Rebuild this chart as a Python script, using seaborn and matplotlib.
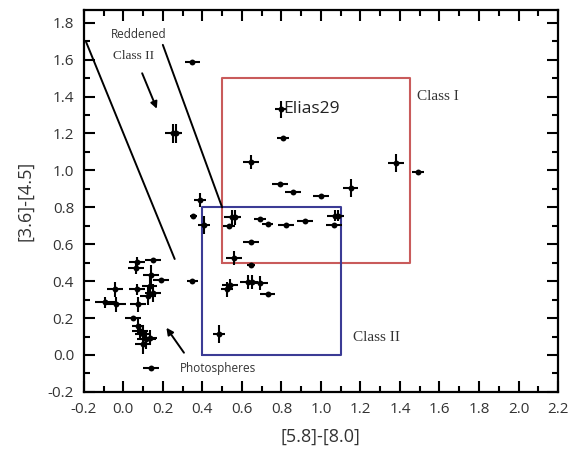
import numpy as np
import pandas as pd
import matplotlib
matplotlib.use("Agg")
import matplotlib.pyplot as plt
import seaborn as sns

# IRAC colours
color_58_80 = [0.35, 0.25, 0.265, 0.645, 0.80, 0.81, 0.795, 0.86, 1.00, 1.15,
               1.38, 1.49, 0.39, 0.355, 0.41, 0.55, 0.565, 0.535, 0.69, 0.73,
               0.825, 0.92, 1.07, 1.085, 1.065, 0.647, 0.56, 0.647, 0.35, 0.54,
               0.525, 0.63, 0.65, 0.69, 0.73, 0.485, 0.14,
               0.071, 0.066, 0.15, 0.142, 0.189, -0.043, -0.094, -0.035, 0.071,
               0.133, 0.125, 0.15, 0.074, 0.049, 0.074, 0.083, 0.10, 0.117,
               0.133, 0.10]
color_36_45 = [1.585, 1.20, 1.20, 1.045, 1.33, 1.175, 0.925, 0.885, 0.863, 0.905,
               1.04, 0.99, 0.84, 0.755, 0.705, 0.745, 0.745, 0.70, 0.737, 0.71,
               0.703, 0.724, 0.755, 0.755, 0.706, 0.614, 0.526, 0.488, 0.40, 0.38,
               0.355, 0.395, 0.395, 0.39, 0.33, 0.115, -0.072,
               0.503, 0.47, 0.514, 0.436, 0.405, 0.355, 0.286, 0.274, 0.355,
               0.373, 0.319, 0.337, 0.274, 0.202, 0.157, 0.13, 0.112, 0.085,
               0.094, 0.058]
err_58_80 = [0.04, 0.04, 0.03, 0.04, 0.03, 0.03, 0.04, 0.04, 0.04, 0.04,
             0.04, 0.03, 0.03, 0.02, 0.03, 0.04, 0.03, 0.03, 0.03, 0.03,
             0.04, 0.04, 0.04, 0.03, 0.04, 0.04, 0.04, 0.02, 0.03, 0.04,
             0.03, 0.04, 0.03, 0.04, 0.04, 0.03, 0.04,
             0.04, 0.04, 0.04, 0.04, 0.04, 0.04, 0.05, 0.05, 0.04,
             0.04, 0.04, 0.04, 0.04, 0.04, 0.03, 0.04, 0.04, 0.05,
             0.04, 0.04]
err_36_45 = [0.01, 0.05, 0.05, 0.04, 0.045, 0.01, 0.01, 0.01, 0.01, 0.05,
             0.05, 0.01, 0.04, 0.01, 0.05, 0.04, 0.04, 0.01, 0.01, 0.01,
             0.01, 0.01, 0.03, 0.03, 0.01, 0.01, 0.04, 0.01, 0.01, 0.03,
             0.04, 0.04, 0.04, 0.04, 0.01, 0.05, 0.01,
             0.03, 0.03, 0.01, 0.05, 0.01, 0.04, 0.03, 0.04, 0.03,
             0.05, 0.05, 0.05, 0.04, 0.01, 0.04, 0.04, 0.05, 0.05,
             0.04, 0.05]

# classification boxes (xmin, xmax, ymin, ymax)
class_i_box = (0.5, 1.45, 0.5, 1.5)
class_ii_box = (0.4, 1.1, 0.0, 0.8)
# reddening lines
redden_line_1 = ([-0.19, 0.26], [1.70, 0.52])
redden_line_2 = ([0.20, 0.50], [1.68, 0.80])

XTICKS = np.arange(-0.2, 2.21, 0.2)
YTICKS = np.arange(-0.2, 1.81, 0.2)

df = pd.DataFrame({"x": color_58_80, "y": color_36_45,
                   "xerr": err_58_80, "yerr": err_36_45})

sns.set_theme(style="ticks")
plt.rcParams["font.family"] = ["Open Sans", "DejaVu Sans"]

fig = plt.figure(figsize=(5.7, 4.66), dpi=100)
ax = fig.add_axes([0.147, 0.159, 0.832, 0.82])

ax.errorbar(df["x"], df["y"], xerr=df["xerr"], yerr=df["yerr"], fmt="none",
            ecolor="black", elinewidth=1.5, capsize=0, zorder=3)
sns.scatterplot(data=df, x="x", y="y", color="black", s=18, linewidth=0,
                ax=ax, zorder=4)

def draw_box(b, color):
    x0, x1, y0, y1 = b
    ax.plot([x0, x1, x1, x0, x0], [y0, y0, y1, y1, y0], color=color, lw=1.5, zorder=2)

draw_box(class_i_box, "#c95b5b")
draw_box(class_ii_box, "#3b3b95")
ax.plot(*redden_line_1, color="black", lw=1.4)
ax.plot(*redden_line_2, color="black", lw=1.4)

txt = dict(color="#333333", fontsize=8.5)
ax.text(0.08, 1.735, "Reddened", ha="center", va="center", **txt)
ax.text(0.05, 1.62, "Class II", ha="center", va="center", family="Liberation Serif",
        color="#333333", fontsize=9.5)
ax.annotate("", xy=(0.175, 1.32), xytext=(0.09, 1.54),
            arrowprops=dict(arrowstyle="-|>", color="black", lw=1.4, mutation_scale=10))
ax.text(0.48, -0.074, "Photospheres", ha="center", va="center", **txt)
ax.annotate("", xy=(0.21, 0.16), xytext=(0.315, 0.0),
            arrowprops=dict(arrowstyle="-|>", color="black", lw=1.4, mutation_scale=10))
ax.text(0.81, 1.33, "Elias29", ha="left", va="center", fontsize=12.5, color="#222222")
ax.text(1.485, 1.40, "Class I", ha="left", va="center", family="Liberation Serif",
        color="#333333", fontsize=11)
ax.text(1.16, 0.095, "Class II", ha="left", va="center", family="Liberation Serif",
        color="#333333", fontsize=11)

ax.set_xlim(-0.2, 2.2)
ax.set_ylim(-0.2, 1.87)
ax.set_xticks(XTICKS)
ax.set_yticks(YTICKS)
ax.set_xticklabels([f"{v:.1f}" for v in XTICKS])
ax.set_yticklabels([f"{v:.1f}" for v in YTICKS])
ax.set_xticks(np.arange(-0.1, 2.2, 0.2), minor=True)
ax.set_yticks(np.arange(-0.1, 1.85, 0.2), minor=True)
ax.tick_params(which="both", direction="in", top=True, right=True,
               width=1.5, colors="black", labelcolor="#333333", labelsize=11)
ax.tick_params(which="major", length=8, pad=7)
ax.tick_params(which="minor", length=4)
for s in ax.spines.values():
    s.set_linewidth(1.6)
    s.set_color("black")

ax.set_xlabel("[5.8]-[8.0]", fontsize=13, color="#333333", labelpad=8)
ax.set_ylabel("[3.6]-[4.5]", fontsize=13, color="#333333", labelpad=10)

fig.savefig("out.png", dpi=100)
